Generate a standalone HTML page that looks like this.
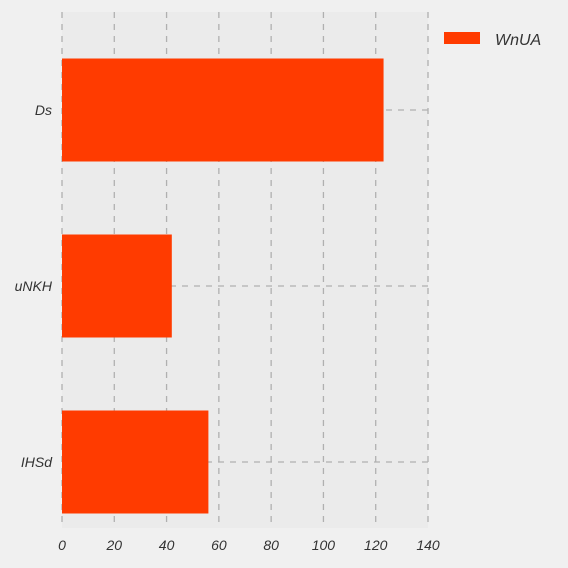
<!DOCTYPE html>
<html><head><meta charset="utf-8"><style>
html,body{margin:0;padding:0;background:#f0f0f0;}
svg{display:block;font-family:"Liberation Sans",sans-serif;font-style:italic;}
</style></head><body>
<svg width="568" height="568" viewBox="0 0 568 568">
<rect x="0" y="0" width="568" height="568" fill="#f0f0f0"/>
<rect x="62" y="12" width="366" height="516" fill="#ebebeb"/>
<g id="grid"></g>
<g id="bars"></g>
<g id="xticks"></g>
<g id="yticks"></g>
<g>
<rect x="444" y="32" width="36" height="12" fill="#ff3b00"/>
<text x="495" y="45" font-size="16" fill="#333">WnUA</text>
</g>
</svg>
<script>
const categories = ["Ds","uNKH","IHSd"];
const values = [123, 42, 56];
const xTicks = [0,20,40,60,80,100,120,140];
const ns="http://www.w3.org/2000/svg";
const x0=62, x1=428, xMax=140;
const xs=v=>x0+(v/xMax)*(x1-x0);
const yTop=22, band=176;
const yc=i=>yTop+band*(i+0.5);
const barH=103;
function mk(t,a,p){const e=document.createElementNS(ns,t);for(const k in a)e.setAttribute(k,a[k]);p.appendChild(e);return e;}
const grid=document.getElementById('grid'),bars=document.getElementById('bars'),xt=document.getElementById('xticks'),yt=document.getElementById('yticks');
xTicks.forEach(t=>{
 const l=mk('line',{x1:xs(t),x2:xs(t),y1:12,y2:528,stroke:'#b0b0b0','stroke-width':1.3,'stroke-dasharray':'6,6'},grid);
 
 
 const tx=mk('text',{x:xs(t),y:550,'font-size':14,fill:'#333','text-anchor':'middle'},xt);
 tx.textContent=t;
 
 
});
categories.forEach((c,i)=>{
 const l=mk('line',{x1:x0,x2:x1,y1:yc(i),y2:yc(i),stroke:'#b0b0b0','stroke-width':1.3,'stroke-dasharray':'6,6'},grid);
 
 
 const r=mk('rect',{x:x0,y:yc(i)-barH/2,width:xs(values[i])-x0,height:barH,fill:'#ff3b00'},bars);
 
 
 const tx=mk('text',{x:52,y:yc(i)+5,'font-size':14,fill:'#333','text-anchor':'end'},yt);
 tx.textContent=c;
 
 
});
</script>
</body></html>
